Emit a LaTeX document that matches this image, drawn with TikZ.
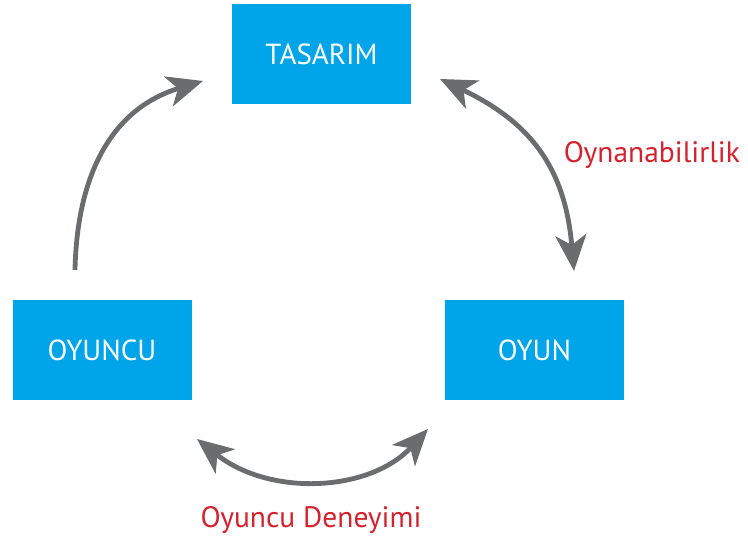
\documentclass[tikz,border=0pt]{standalone}
\usepackage{fontspec}
\setmainfont{PT Sans}
\usetikzlibrary{arrows.meta}
\definecolor{boxblue}{HTML}{00A4E8}
\definecolor{arrgray}{HTML}{6B6C6E}
\definecolor{labred}{HTML}{D3232E}
\tikzset{
  tip/.tip={Stealth[length=36pt, width=31pt, inset=10pt]},
  box/.style={fill=boxblue, minimum width=179pt, minimum height=100pt, inner sep=0pt, text=white, font=\fontsize{29pt}{33pt}\selectfont},
  conn/.style={draw=arrgray, line width=4.8pt, -tip},
  conn2/.style={draw=arrgray, line width=4.8pt, tip-tip},
  lab/.style={text=labred, font=\fontsize{29.5pt}{33pt}\selectfont}
}
\begin{document}
\begin{tikzpicture}[x=1pt,y=1pt]
\useasboundingbox (0,0) rectangle (748,537);
\node[box] (tas) at (321.5,483) {TASARIM};
\node[box] (oyuncu) at (102,187) {OYUNCU};
\node[box] (oyun) at (534.5,187) {OYUN};
\coordinate (a1s) at (75,267);
\coordinate (a1e) at (203,456);
\coordinate (a2s) at (440,458);
\coordinate (a2e) at (574,266);
\coordinate (a3s) at (197,98);
\coordinate (a3e) at (428,108);
\draw[conn] (a1s) .. controls (77,360) and (110,428) .. (a1e);
\draw[conn2] (a2s) .. controls (530,415) and (565,370) .. (a2e);
\draw[conn2] (a3s) .. controls (270,40) and (370,45) .. (a3e);
\node[lab] (l1) at (652,382) {Oynanabilirlik};
\node[lab] (l2) at (311,17) {Oyuncu Deneyimi};
\end{tikzpicture}
\end{document}
